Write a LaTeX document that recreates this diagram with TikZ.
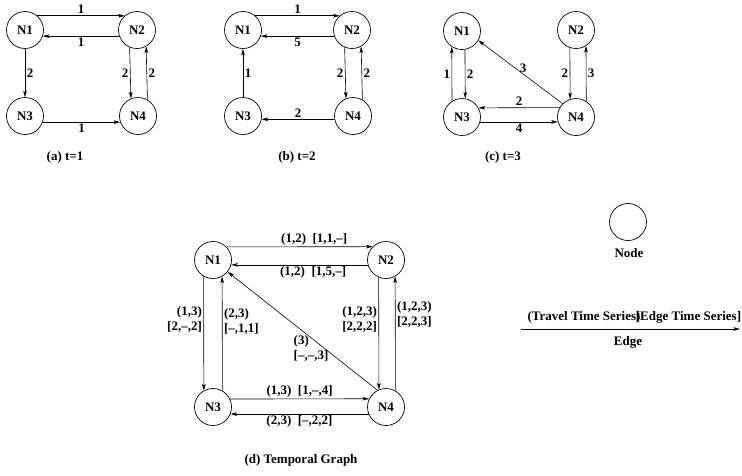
\documentclass[tikz,border=0pt]{standalone}
\usepackage{fontspec}
\setmainfont{Liberation Serif}
\usetikzlibrary{arrows.meta}
\newcommand{\lblsize}{\fontsize{13}{15}\selectfont}
\tikzset{
  vtx/.style={circle, draw, line width=0.7pt, minimum size=37pt, inner sep=0pt, font=\lblsize\bfseries},
  lbl/.style={font=\lblsize\bfseries, inner sep=1.5pt},
  arr/.style={line width=0.6pt, -{Stealth[length=6.5pt,width=3.6pt,inset=1.5pt]}},
}
\begin{document}
\begin{tikzpicture}[x=1pt,y=-1pt]
\useasboundingbox (0,0) rectangle (742,475);
% ---------- (a) ----------
\node[vtx] (a1) at (25,30) {N1};
\node[vtx] (a2) at (137,30) {N2};
\node[vtx] (a3) at (25,116) {N3};
\node[vtx] (a4) at (138,116) {N4};
\draw[arr] (a1.49) -- node[lbl,above] {1} (a2.131);
\draw[arr] (a2.199) -- node[lbl,below] {1} (a1.-19);
\draw[arr] (a1.south) -- node[lbl,right] {2} (a3.north);
\draw[arr] (a2.247.8) -- node[lbl,left] {2} (a4.112.2);
\draw[arr] (a4.60.9) -- node[lbl,right] {2} (a2.299.1);
\draw[arr] (a3.-19) -- node[lbl,below] {1} (a4.199);
\node[lbl] (capa) at (65,157) {(a) t=1};
% ---------- (b) ----------
\node[vtx] (b1) at (243,30) {N1};
\node[vtx] (b2) at (352,30) {N2};
\node[vtx] (b3) at (243,116) {N3};
\node[vtx] (b4) at (353,116) {N4};
\draw[arr] (b1.49) -- node[lbl,above] {1} (b2.131);
\draw[arr] (b2.199) -- node[lbl,below] {5} (b1.-19);
\draw[arr] (b3.north) -- node[lbl,right] {1} (b1.south);
\draw[arr] (b2.247.8) -- node[lbl,left] {2} (b4.112.2);
\draw[arr] (b4.60.9) -- node[lbl,right] {2} (b2.299.1);
\draw[arr] (b4.190) -- node[lbl,above] {2} (b3.-10);
\node[lbl] (capb) at (297,157) {(b) t=2};
% ---------- (c) ----------
\node[vtx] (c1) at (462,31) {N1};
\node[vtx] (c2) at (576,30) {N2};
\node[vtx] (c3) at (462,117) {N3};
\node[vtx] (c4) at (576,117) {N4};
\draw[arr] (c1.279.3) -- node[lbl,right] {2} (c3.80.7);
\draw[arr] (c3.122.7) -- node[lbl,left] {1} (c1.237.3);
\draw[arr] (c4.135) -- node[lbl,above,pos=0.47] {3} (c1.-30);
\draw[arr] (c2.251.1) -- node[lbl,left] {2} (c4.108.9);
\draw[arr] (c4.57.3) -- node[lbl,right] {3} (c2.302.7);
\draw[arr] (c4.150.9) -- node[lbl,above] {2} (c3.29.1);
\draw[arr] (c3.-15.7) -- node[lbl,below] {4} (c4.195.7);
\node[lbl] (capc) at (503,157) {(c) t=3};
% ---------- (d) ----------
\node[vtx] (d1) at (213,260) {N1};
\node[vtx] (d2) at (386,260) {N2};
\node[vtx] (d3) at (213,407) {N3};
\node[vtx] (d4) at (386,407) {N4};
\draw[arr] (d1.44.6) -- node[lbl,above,pos=0.6] {(1,2)\ \ [1,1,–]} (d2.135.4);
\draw[arr] (d2.195.7) -- node[lbl,below,pos=0.4] {(1,2)\ \ [1,5,–]} (d1.-15.7);
\draw[arr] (d1.240.9) -- node[lbl,left,align=right,pos=0.38] {(1,3)\\{}[2,–,2]} (d3.119.1);
\draw[arr] (d3.60.9) -- node[lbl,right,align=left,pos=0.61] {(2,3)\\{}[–,1,1]} (d1.299.1);
\draw[arr] (d2.247.8) -- node[lbl,left,align=right,pos=0.38] {(1,2,3)\\{}[2,2,2]} (d4.112.2);
\draw[arr] (d4.60.9) -- node[lbl,right,align=left,pos=0.67] {(1,2,3)\\{}[2,2,3]} (d2.299.1);
\draw[arr] (d4.117) -- (d1.-39);
\node[lbl,anchor=north west,align=left] (d41lbl) at (292,334) {(3)\\{}[–,–,3]};
\draw[arr] (d3.25.6) -- node[lbl,above] {(1,3)\ \ [1,–,4]} (d4.154.4);
\draw[arr] (d4.202.2) -- node[lbl,below] {(2,3)\ \ [–,2,2]} (d3.-22.2);
\node[lbl] (capd) at (301,460) {(d) Temporal Graph};
% ---------- legend ----------
\node[vtx] (legnode) at (628,222) {};
\node[lbl] (legnodelbl) at (629,253) {Node};
\coordinate (e1) at (521,329);
\coordinate (e2) at (740,329);
\draw[arr] (e1) -- (e2);
\node[lbl] (travel) at (584,317) {(Travel Time Series)};
\node[lbl] (edgets) at (688.5,317) {[Edge Time Series]};
\node[lbl] (edgelbl) at (628,342) {Edge};
\end{tikzpicture}
\end{document}
